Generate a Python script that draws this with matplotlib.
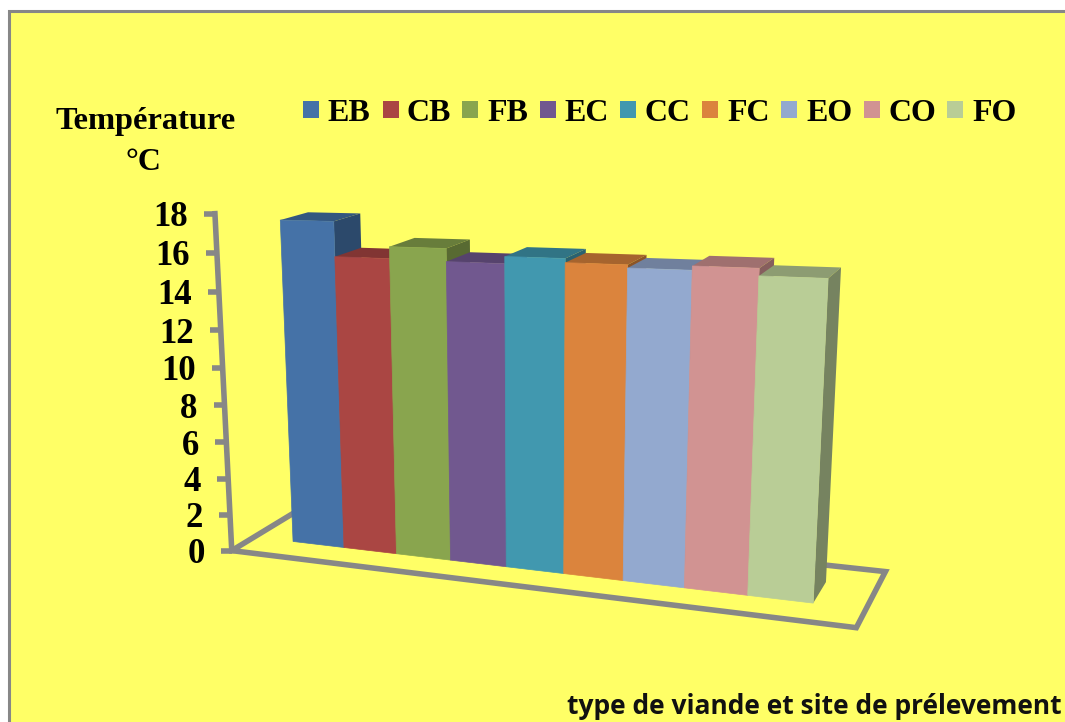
import numpy as np
import matplotlib
matplotlib.use("Agg")
import matplotlib.pyplot as plt
from matplotlib.patches import Polygon, Rectangle

# Mean temperature per meat type and sampling site
categories = ["EB", "CB", "FB", "EC", "CC", "FC", "EO", "CO", "FO"]
temperatures = [17.4, 15.6, 16.2, 15.55, 15.9, 15.7, 15.55, 15.75, 15.4]
bar_colors = ["#4572A7", "#AA4643", "#89A54E", "#71588F", "#4198AF",
              "#DB843D", "#93A9CF", "#D19392", "#B9CD96"]
y_ticks = list(range(0, 19, 2))

BG = "#FFFF66"
GREY = "#878787"
W, H = 1065, 722

# Camera calibration: (column, depth, height) -> (pixel x, pixel y)
CALIBRATION = [
    (0, 0, 0, 292.5, 539.3), (1, 0, 0, 344, 545.7), (2, 0, 0, 398, 552),
    (3, 0, 0, 453, 559.3), (4, 0, 0, 509, 566.3), (5, 0, 0, 567, 574.3),
    (6, 0, 0, 627, 581.7), (7, 0, 0, 688, 589.3), (8, 0, 0, 750, 597),
    (9, 0, 0, 813, 605), (9, 1, 0, 826, 583),
    (0, 0, 17.4, 279, 222), (1, 0, 17.4, 334, 224), (1, 1, 17.4, 362, 217),
    (0, 1, 17.4, 310, 213),
    (3, 0, 16.2, 448, 246), (3, 1, 16.2, 472, 237),
    (5, 0, 15.9, 568, 257), (5, 1, 15.9, 589, 247),
    (8, 0, 15.4, 759, 271), (9, 0, 15.4, 827, 274), (9, 1, 15.4, 838, 266),
    (9.78, -0.8, 0, 853, 630), (9.78, -0.8, 0, 853, 630),
    (9.78, 1.8, 0, 883, 573), (9.78, 1.8, 0, 883, 573),
    (-0.78, 1.8, 0, 295, 509),
] + 3 * [
    (-0.78, -0.8, 0, 232, 548), (-0.78, -0.8, 18, 213, 217),
    (-0.78, -0.8, 8, 223, 405),
]


def fit_camera(rows, rounds=8):
    # Linear fit, reweighted so the residuals approach pixel distances
    weights = np.ones(len(rows))
    for _ in range(rounds):
        A, b = [], []
        for (x, d, z, u, v), w in zip(rows, weights):
            A.append([w * c for c in (x, d, z, 1, 0, 0, 0, 0, -u * x, -u * d, -u * z)])
            A.append([w * c for c in (0, 0, 0, 0, x, d, z, 1, -v * x, -v * d, -v * z)])
            b += [w * u, w * v]
        p = np.linalg.lstsq(np.array(A, float), np.array(b, float), rcond=None)[0]
        cam = np.append(p, 1.0).reshape(3, 4)
        weights = np.array([1.0 / (cam[2] @ np.array([x, d, z, 1.0]))
                            for x, d, z, _, _ in rows])
    return cam


CAM = fit_camera(CALIBRATION)


def project(x, d, z):
    q = CAM @ np.array([x, d, z, 1.0])
    return q[0] / q[2], q[1] / q[2]


def shade(color, factor):
    rgb = np.array(matplotlib.colors.to_rgb(color)) * factor
    return tuple(rgb)


plt.rcParams["font.family"] = ["Liberation Serif", "DejaVu Serif"]
fig = plt.figure(figsize=(W / 100, H / 100), dpi=100, facecolor="white")
ax = fig.add_axes([0, 0, 1, 1])
ax.set_xlim(0, W)
ax.set_ylim(H, 0)
ax.axis("off")

# Chart area
ax.add_patch(Rectangle((8.7, 11.3), W + 20, H + 20, facecolor=BG,
                       edgecolor=GREY, linewidth=2.2, zorder=0))

# Floor outline
FX0, FX1, FD0, FD1 = -0.78, 9.78, -0.8, 1.8
floor = [project(FX0, FD1, 0), project(FX0, FD0, 0), project(FX1, FD0, 0),
         project(FX1, FD1, 0), project(FX0, FD1, 0)]
ax.plot(*zip(*floor), color=GREY, lw=4, solid_joinstyle="miter", zorder=1)

# Value axis with tick stubs and labels
ax.plot(*zip(project(FX0, FD0, 0), project(FX0, FD0, y_ticks[-1])),
        color=GREY, lw=4, solid_capstyle="projecting", zorder=1)
for t in y_ticks:
    px, py = project(FX0, FD0, t)
    ax.plot([px - 11, px], [py, py], color=GREY, lw=4,
            solid_capstyle="butt", zorder=1)
    ax.text(px - 27, py, str(t), ha="right", va="center_baseline",
            fontsize=25, fontweight="bold", color="black")

# Bars, drawn left to right so that nearer columns cover farther ones
for i, (value, color) in enumerate(zip(temperatures, bar_colors)):
    front = [project(i, 0, 0), project(i + 1, 0, 0),
             project(i + 1, 0, value), project(i, 0, value)]
    side = [project(i + 1, 0, 0), project(i + 1, 1, 0),
            project(i + 1, 1, value), project(i + 1, 0, value)]
    top = [project(i, 0, value), project(i + 1, 0, value),
           project(i + 1, 1, value), project(i, 1, value)]
    ax.add_patch(Polygon(top, facecolor=shade(color, 0.76),
                         edgecolor="none", zorder=2 + i))
    ax.add_patch(Polygon(side, facecolor=shade(color, 0.64),
                         edgecolor="none", zorder=2 + i))
    ax.add_patch(Polygon(front, facecolor=color, edgecolor=color,
                         linewidth=0.5, zorder=2 + i))

# Legend row
swatch_left = [303, 383, 462, 540, 620, 702, 781, 864, 947]
label_left = [327, 407, 487, 564, 645, 727, 806, 888, 972]
for name, color, sx, tx in zip(categories, bar_colors, swatch_left, label_left):
    ax.add_patch(Rectangle((sx, 101), 16, 17, facecolor=color,
                           edgecolor="none", zorder=20))
    ax.text(tx, 110, name, ha="left", va="center_baseline", fontsize=23,
            fontweight="bold", color="black")

# Axis titles
ax.text(145.5, 118, "Température", ha="center", va="center_baseline",
        fontsize=23.3, fontweight="bold", color="black")
ax.text(143, 159, "°C", ha="center", va="center_baseline", fontsize=23,
        fontweight="bold", color="black")
ax.text(567, 704, "type de viande et site de prélevement", ha="left",
        va="center_baseline", fontsize=19, fontweight="bold", color="#111111",
        family=["Open Sans", "DejaVu Sans"])

fig.savefig("out.png", dpi=100, facecolor="white")
